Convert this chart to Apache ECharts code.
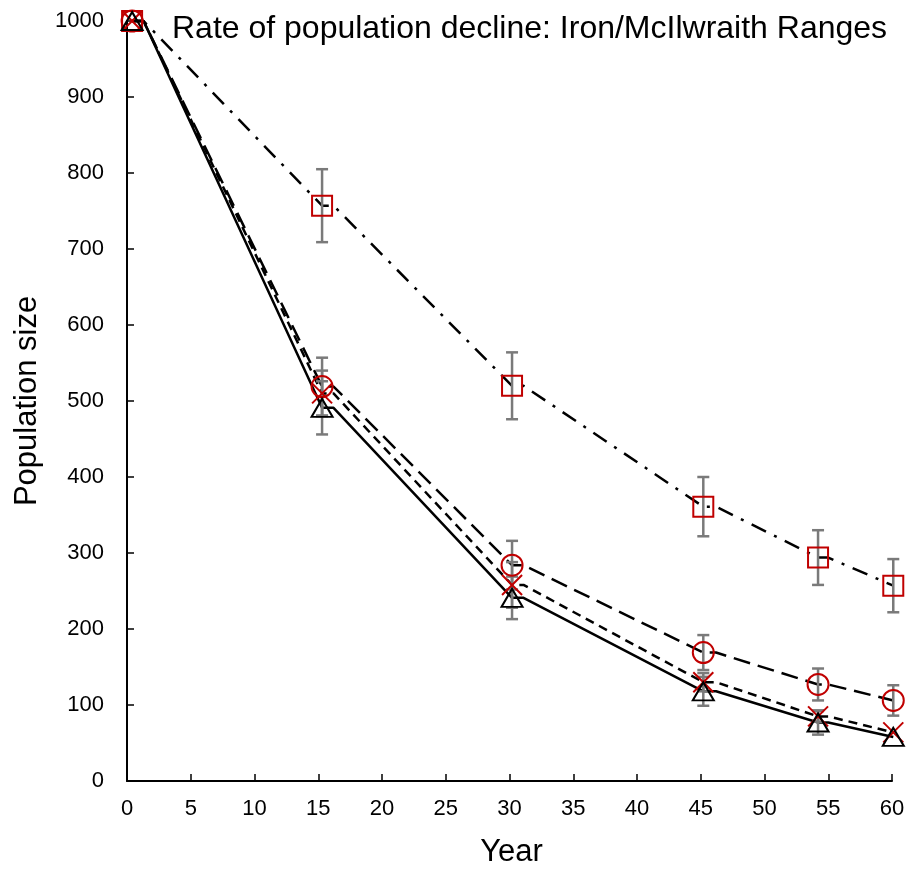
<!DOCTYPE html>
<html>
<head>
<meta charset="utf-8">
<script src="https://cdn.jsdelivr.net/npm/echarts@6/dist/echarts.min.js"></script>
<style>
  html, body { margin: 0; padding: 0; background: #fff; }
  #chart { width: 912px; height: 873px; }
</style>
</head>
<body>
<div id="chart"></div>
<script>
// ---- data ----
const titleText = 'Rate of population decline: Iron/McIlwraith Ranges';
const xName = 'Year';
const yName = 'Population size';

const years = [0.4, 15.3, 30.2, 45.2, 54.2, 60.1];
// end of the short flat run that follows each point on the black lines
const flatEnds = [1.3, 16.2, 31.1, 46.2, 55.0];

const squareVals   = [1000, 757, 520, 361, 294, 257];
const squareErr    = [0, 48, 44, 39, 36, 35];
const circleVals   = [1000, 519, 284, 169, 127, 106];
const circleErr    = [0, 38, 32, 23, 21, 20];
const crossVals    = [1000, 510, 258, 130, 85, 64];
const crossErr     = [0, 30, 30, 12, 7, 0];
const triangleVals = [1000, 491, 241, 118, 77, 58];
const triangleErr  = [0, 35, 28, 19, 16, 0];

// ---- build ----
const FONT = '"Liberation Sans", Arial, sans-serif';
const RED = '#c00000';

function linePoints(vals) {
  const pts = [];
  for (let i = 0; i < years.length; i++) {
    pts.push([years[i], vals[i]]);
    if (i < flatEnds.length) pts.push([flatEnds[i], vals[i]]);
  }
  return pts;
}
function markerPoints(vals) {
  return years.map((y, i) => [y, vals[i]]);
}
function errPoints(vals, errs) {
  const out = [];
  years.forEach((y, i) => { if (errs[i] > 0) out.push([y, vals[i] - errs[i], vals[i] + errs[i]]); });
  return out;
}

function errorSeries(vals, errs) {
  return {
    type: 'custom',
    data: errPoints(vals, errs),
    z: 3,
    clip: false,
    renderItem: function (params, api) {
      const x = api.value(0);
      const lo = api.coord([x, api.value(1)]);
      const hi = api.coord([x, api.value(2)]);
      const cap = 6;
      const style = { stroke: '#7a7a7a', lineWidth: 2.5, fill: null };
      return {
        type: 'group',
        children: [
          { type: 'line', shape: { x1: lo[0], y1: lo[1], x2: hi[0], y2: hi[1] }, style: style },
          { type: 'line', shape: { x1: lo[0] - cap, y1: lo[1], x2: lo[0] + cap, y2: lo[1] }, style: style },
          { type: 'line', shape: { x1: hi[0] - cap, y1: hi[1], x2: hi[0] + cap, y2: hi[1] }, style: style }
        ]
      };
    }
  };
}

function lineSeries(vals, dash) {
  return {
    type: 'line',
    data: linePoints(vals),
    showSymbol: false,
    symbol: 'none',
    clip: false,
    z: 2,
    lineStyle: { color: '#000', width: 2.5, type: dash },
    silent: true,
    animation: false
  };
}

function markerSeries(vals, symbol, size, color) {
  return {
    type: 'scatter',
    data: markerPoints(vals),
    symbol: symbol,
    symbolSize: size,
    clip: false,
    z: 4,
    itemStyle: { color: 'rgba(0,0,0,0)', borderColor: color, borderWidth: 2, opacity: 1 },
    animation: false
  };
}

const chart = echarts.init(document.getElementById('chart'), null, { renderer: 'canvas' });

const option = {
  animation: false,
  backgroundColor: '#fff',
  title: {
    text: titleText,
    left: 167,
    top: 8,
    textStyle: { fontFamily: FONT, fontSize: 32, fontWeight: 'normal', color: '#000' }
  },
  grid: { left: 127, right: 20, top: 21, bottom: 85, containLabel: false },
  xAxis: {
    type: 'value',
    min: 0, max: 60, interval: 5,
    name: xName,
    nameLocation: 'middle',
    nameGap: 56,
    nameTextStyle: { fontFamily: FONT, fontSize: 31, color: '#000', padding: [0, 0, 0, 4] },
    axisLine: { show: true, onZero: false, lineStyle: { color: '#000', width: 2 } },
    axisTick: { show: true, inside: true, length: 7, lineStyle: { color: '#000', width: 1.5 } },
    axisLabel: { fontFamily: FONT, fontSize: 22, color: '#000', margin: 17 },
    splitLine: { show: false }
  },
  yAxis: {
    type: 'value',
    min: 0, max: 1000, interval: 100,
    name: yName,
    nameLocation: 'middle',
    nameGap: 84,
    nameRotate: 90,
    nameTextStyle: { fontFamily: FONT, fontSize: 31, color: '#000' },
    axisLine: { show: true, onZero: false, lineStyle: { color: '#000', width: 2 } },
    axisTick: { show: true, inside: true, length: 7, lineStyle: { color: '#000', width: 1.5 } },
    axisLabel: { fontFamily: FONT, fontSize: 22, color: '#000', margin: 23, formatter: function (v) { return String(v); } },
    splitLine: { show: false }
  },
  series: [
    lineSeries(squareVals, [16, 9, 3, 9]),
    lineSeries(circleVals, [17, 8]),
    lineSeries(crossVals, [9, 6]),
    lineSeries(triangleVals, 'solid'),
    errorSeries(squareVals, squareErr),
    errorSeries(circleVals, circleErr),
    errorSeries(crossVals, crossErr),
    errorSeries(triangleVals, triangleErr),
    markerSeries(squareVals, 'rect', 20, RED),
    markerSeries(circleVals, 'circle', 21, RED),
    markerSeries(crossVals, 'path://M0,0L10,10M10,0L0,10', 20, RED),
    markerSeries(triangleVals, 'triangle', [21, 18], '#000')
  ]
};

chart.setOption(option);
</script>
</body>
</html>
